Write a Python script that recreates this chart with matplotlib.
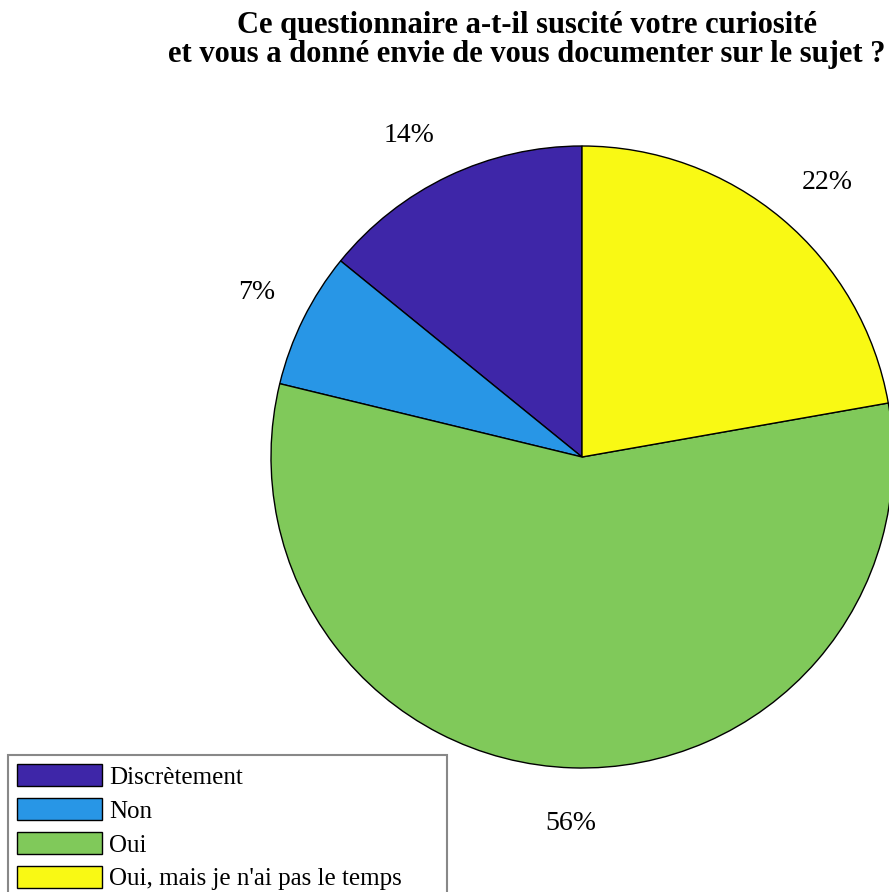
import matplotlib
matplotlib.use("Agg")
import matplotlib.pyplot as plt
from matplotlib.patches import Rectangle

# --------------------------------------------------
# Data
# --------------------------------------------------
categories = ["Discrètement", "Non", "Oui", "Oui, mais je n'ai pas le temps"]
percent = [14, 7, 56, 22]
pct_labels = [f"{p}%" for p in percent]
colors = ["#3E26A8", "#2896E6", "#80C95A", "#F9F914"]

title = ("Ce questionnaire a-t-il suscité votre curiosité\n"
         "et vous a donné envie de vous documenter sur le sujet ?")

plt.rcParams["font.family"] = ["Liberation Serif", "DejaVu Serif"]

W, H = 889, 892
fig = plt.figure(figsize=(W / 100, H / 100), dpi=100)
ax = fig.add_axes([0, 0, 1, 1])

# pie centre and radius in pixels (as in the reference)
cx, cy, r = 582, 457, 311

wedges, texts = ax.pie(
    percent,
    labels=pct_labels,
    colors=colors,
    startangle=90,
    counterclock=True,
    labeldistance=1.1,
    radius=1,
    wedgeprops=dict(edgecolor="black", linewidth=1),
    textprops=dict(fontsize=20),
)

# MATLAB-like label alignment
for t in texts:
    x, y = t.get_position()
    if x > 0.15:
        t.set_ha("left")
    elif x < -0.15:
        t.set_ha("right")
    else:
        t.set_ha("center")
    if y > 0:
        t.set_va("bottom")
    else:
        t.set_va("top")
        t.set_position((x, y - 0.04))

ax.set_xlim(-cx / r, (W - cx) / r)
ax.set_ylim(-(H - cy) / r, cy / r)
ax.set_aspect("auto")
ax.axis("off")

fig.text(527 / W, 1 - 11 / H, title, ha="center", va="top",
         fontsize=22, fontweight="bold", linespacing=1.0)

leg = ax.legend(
    wedges, categories,
    loc="upper left",
    bbox_to_anchor=(8 / W, 1 - 755 / H),
    bbox_transform=fig.transFigure,
    fontsize=18,
    frameon=False,
    handlelength=3.4,
    handleheight=1.0,
    handletextpad=0.28,
    labelspacing=0.37,
    borderpad=0.35,
    borderaxespad=0,
)
leg.set_zorder(10)

# wider MATLAB-style legend box (extra room on the right)
fig.canvas.draw()
bb = leg.get_window_extent()
box = Rectangle((bb.x0, bb.y0), 447 - bb.x0, bb.height,
                transform=None, facecolor="white", edgecolor="#888888",
                linewidth=1.5, zorder=9)
box.set_clip_on(False)
ax.add_artist(box)
fig.savefig("out.png", dpi=100)
